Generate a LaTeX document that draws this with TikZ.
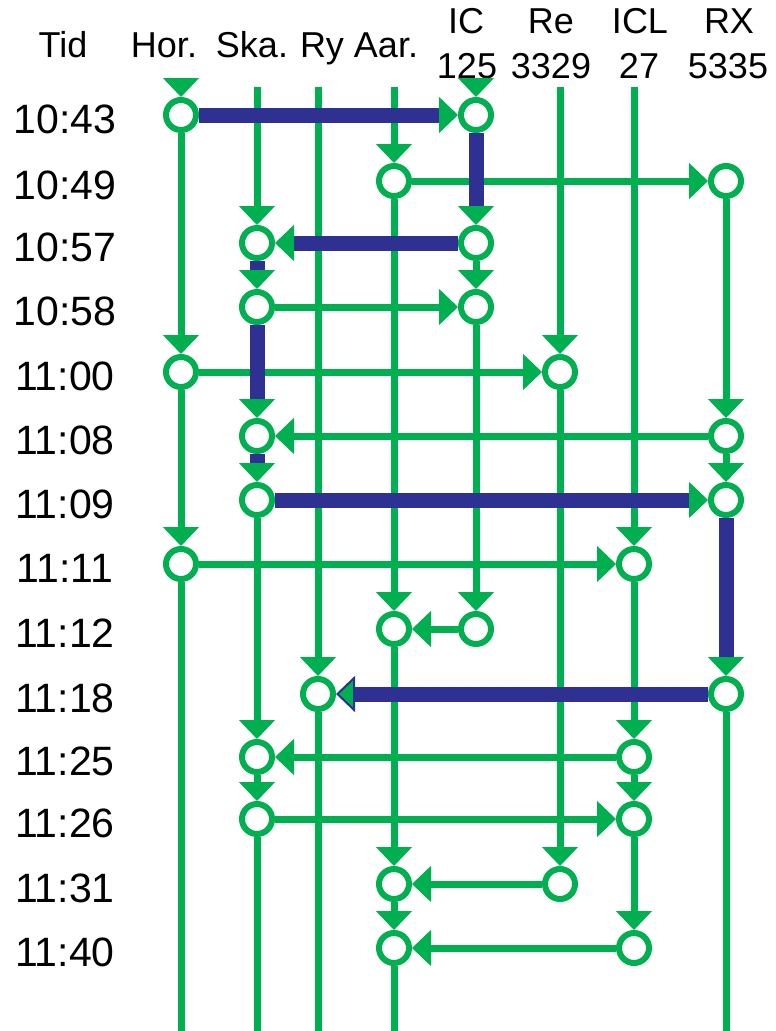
\documentclass[tikz,border=0pt]{standalone}
\usepackage{fontspec}
\setmainfont{Liberation Sans}
\usetikzlibrary{arrows.meta}

\definecolor{railgreen}{RGB}{0,176,80}
\definecolor{railblue}{RGB}{46,49,146}

\begin{document}
\begin{tikzpicture}[x=1pt, y=-1pt,
  stop/.style={circle, draw=railgreen, line width=6pt, fill=white, minimum size=30pt, inner sep=0pt},
  gline/.style={draw=railgreen, line width=7pt, -{Triangle[width=36pt,length=19pt,line width=1pt]}},
  gplain/.style={draw=railgreen, line width=7pt},
  bline/.style={draw=railblue, line width=15pt, -{Triangle[width=36pt,length=19pt,line width=1pt,color=railgreen]}},
  head/.style={font=\fontsize{36}{40}\selectfont, anchor=base, inner sep=0pt},
  clock/.style={font=\fontsize{41}{45}\selectfont, anchor=base, inner sep=0pt}]
  \useasboundingbox (0,0) rectangle (776,1031);

  % column heads
  \node[head] (htid) at (63,57) {Tid};
  \node[head] (hhor) at (164,57) {Hor.};
  \node[head] (hska) at (252,57) {Ska.};
  \node[head] (hry) at (322,57) {Ry};
  \node[head] (haar) at (386,57) {Aar.};
  \node[head] (hic) at (466,33) {IC};
  \node[head] (hicn) at (467,78) {125};
  \node[head] (hre) at (551,33) {Re};
  \node[head] (hren) at (551,78) {3329};
  \node[head] (hicl) at (640,33) {ICL};
  \node[head] (hicln) at (639,78) {27};
  \node[head] (hrx) at (729,33) {RX};
  \node[head] (hrxn) at (728,78) {5335};

  % times
  \foreach \t/\y in {10:43/115, 10:49/181, 10:57/243, 10:58/307, 11:00/372, 11:08/436, 11:09/500,
                     11:11/564, 11:12/629, 11:18/694, 11:25/757, 11:26/819, 11:31/884, 11:40/948}
    \node[clock] (time\y) at (65,\y+18) {\t};

  % stops
  \foreach \t/\y in {1043/115, 1100/372, 1111/564}
    \node[stop] (hor\t) at (181,\y) {};
  \foreach \t/\y in {1057/243, 1058/307, 1108/436, 1109/500, 1125/757, 1126/819}
    \node[stop] (ska\t) at (257,\y) {};
  \node[stop] (ry1118) at (318,694) {};
  \foreach \t/\y in {1049/181, 1112/629, 1131/884, 1140/948}
    \node[stop] (aar\t) at (394,\y) {};
  \foreach \t/\y in {1043/115, 1057/243, 1058/307, 1112/629}
    \node[stop] (ic\t) at (476,\y) {};
  \foreach \t/\y in {1100/372, 1131/884}
    \node[stop] (re\t) at (560,\y) {};
  \foreach \t/\y in {1111/564, 1125/757, 1126/819, 1140/948}
    \node[stop] (icl\t) at (634,\y) {};
  \foreach \t/\y in {1049/181, 1108/436, 1109/500, 1118/694}
    \node[stop] (rx\t) at (726,\y) {};

  \coordinate (hortop) at (181,81);
  \coordinate (skatop) at (257,87);
  \coordinate (rytop) at (318,87);
  \coordinate (aartop) at (394,87);
  \coordinate (ictop) at (476,84);
  \coordinate (retop) at (560,87);
  \coordinate (icltop) at (634,87);
  \coordinate (horend) at (181,1040);
  \coordinate (skaend) at (257,1040);
  \coordinate (ryend) at (318,1040);
  \coordinate (aarend) at (394,1040);
  \coordinate (rxend) at (726,1040);

  % tracks
  \draw[gline] (hortop) -- (hor1043);
  \draw[gline] (hor1043) -- (hor1100);
  \draw[gline] (hor1100) -- (hor1111);
  \draw[gplain] (hor1111) -- (horend);
  \draw[gline] (skatop) -- (ska1057);
  \draw[gline] (ska1109) -- (ska1125);
  \draw[gline] (ska1125) -- (ska1126);
  \draw[gplain] (ska1126) -- (skaend);
  \draw[gline] (rytop) -- (ry1118);
  \draw[gplain] (ry1118) -- (ryend);
  \draw[gline] (aartop) -- (aar1049);
  \draw[gline] (aar1049) -- (aar1112);
  \draw[gline] (aar1112) -- (aar1131);
  \draw[gline] (aar1131) -- (aar1140);
  \draw[gplain] (aar1140) -- (aarend);
  \draw[gline] (ictop) -- (ic1043);
  \draw[gline] (ic1057) -- (ic1058);
  \draw[gline] (ic1058) -- (ic1112);
  \draw[gline] (retop) -- (re1100);
  \draw[gline] (re1100) -- (re1131);
  \draw[gline] (icltop) -- (icl1111);
  \draw[gline] (icl1111) -- (icl1125);
  \draw[gline] (icl1125) -- (icl1126);
  \draw[gline] (icl1126) -- (icl1140);
  \draw[gline] (rx1049) -- (rx1108);
  \draw[gline] (rx1108) -- (rx1109);
  \draw[gplain] (rx1118) -- (rxend);

  % transfers
  \draw[gline] (aar1049) -- (rx1049);
  \draw[gline] (ska1058) -- (ic1058);
  \draw[gline] (hor1100) -- (re1100);
  \draw[gline] (rx1108) -- (ska1108);
  \draw[gline] (hor1111) -- (icl1111);
  \draw[gline] (ic1112) -- (aar1112);
  \draw[gline] (icl1125) -- (ska1125);
  \draw[gline] (ska1126) -- (icl1126);
  \draw[gline] (re1131) -- (aar1131);
  \draw[gline] (icl1140) -- (aar1140);

  % route
  \draw[bline] (hor1043) -- (ic1043);
  \draw[bline] (ic1043) -- (ic1057);
  \draw[bline] (ic1057) -- (ska1057);
  \draw[bline] (ska1057) -- (ska1058);
  \draw[bline] (ska1058) -- (ska1108);
  \draw[bline] (ska1108) -- (ska1109);
  \draw[bline] (ska1109) -- (rx1109);
  \draw[bline] (rx1109) -- (rx1118);
  \draw[bline, -{Triangle[width=36pt,length=19pt,line width=2pt,color=railblue,fill=railgreen]}] (rx1118) -- (ry1118);
\end{tikzpicture}
\end{document}
